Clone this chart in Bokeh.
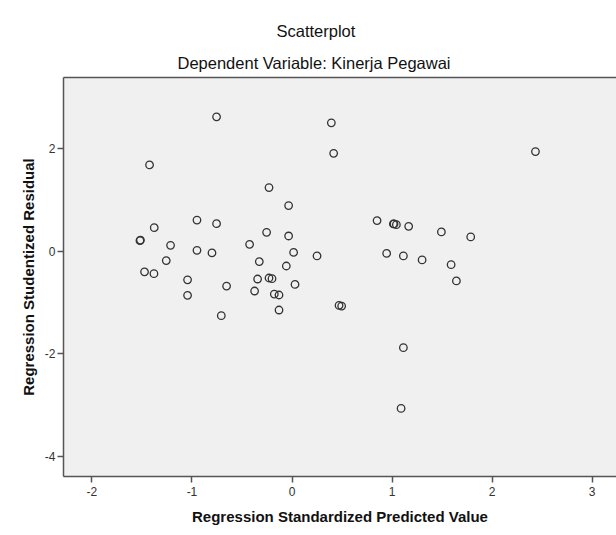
from bokeh.plotting import figure
from bokeh.models import Range1d, FixedTicker, LinearAxis, Title, ColumnDataSource
from bokeh.embed import file_html
from bokeh.resources import INLINE

# Regression standardized predicted value (x) and studentized residual (y)
pred = [-1.424, -0.950, -1.377, -1.520, -1.515, -1.214, -0.950, -1.257, -1.474, -1.380,
        -1.044, -1.044, -0.754, 0.393, 0.416, -0.230, -0.034, -0.754, -0.254, -0.034,
        -0.424, -0.800, 0.016, 0.250, -0.327, -0.057, -0.654, -0.344, -0.230, -0.200,
        0.030, -0.374, -0.177, -0.130, -0.130, -0.707, 0.470, 0.496, 0.850, 1.013,
        1.020, 1.043, 0.946, 2.433, 1.166, 1.493, 1.786, 1.113, 1.300, 1.590,
        1.643, 1.113, 1.090]
resid = [1.687, 0.610, 0.463, 0.209, 0.220, 0.117, 0.020, -0.180, -0.400, -0.435,
         -0.555, -0.859, 2.625, 2.508, 1.914, 1.244, 0.893, 0.541, 0.371, 0.300,
         0.137, -0.030, -0.020, -0.090, -0.200, -0.286, -0.677, -0.540, -0.520, -0.533,
         -0.645, -0.774, -0.833, -0.852, -1.145, -1.256, -1.055, -1.067, 0.600, 0.535,
         0.535, 0.521, -0.040, 1.947, 0.488, 0.379, 0.281, -0.090, -0.168, -0.260,
         -0.578, -1.880, -3.066]

x_ticks = [-2, -1, 0, 1, 2, 3]
y_ticks = [-4, -2, 0, 2]
x_tick_labels = {-2: "-2", -1: "-1", 0: "0", 1: "1", 2: "2", 3: "3"}
y_tick_labels = {-4: "-4", -2: "-2", 0: "0", 2: "2"}

title_text = "Scatterplot"
subtitle_text = "Dependent Variable: Kinerja Pegawai"
x_label = "Regression Standardized Predicted Value"
y_label = "Regression Studentized Residual"

FONT = "Liberation Sans"
EDGE = "#555555"

p = figure(width=616, height=535, output_backend="svg", toolbar_location=None,
           x_range=Range1d(-2.284, 3.243), y_range=Range1d(-4.394, 3.393),
           min_border_left=63, min_border_right=0, min_border_top=77, min_border_bottom=59,
           background_fill_color="#F0F0F0", border_fill_color="white")
p.title.visible = False
p.outline_line_color = None
p.xgrid.grid_line_color = None
p.ygrid.grid_line_color = None

src = ColumnDataSource(dict(x=pred, y=resid))
p.scatter("x", "y", source=src, size=7.5, fill_color=None, line_color="#333333", line_width=1.3)

for ax, ticks, labels in ((p.xaxis[0], x_ticks, x_tick_labels), (p.yaxis[0], y_ticks, y_tick_labels)):
    ax.ticker = FixedTicker(ticks=ticks)
    ax.major_label_overrides = labels
    ax.minor_tick_line_color = None
    ax.major_tick_in = 0
    ax.major_tick_out = 6
    ax.major_tick_line_color = EDGE
    ax.major_tick_line_width = 1.5
    ax.axis_line_color = EDGE
    ax.axis_line_width = 1.5
    ax.major_label_text_font = FONT
    ax.major_label_text_font_size = "12px"
    ax.major_label_text_color = "#333333"
    ax.axis_label_text_font = FONT
    ax.axis_label_text_font_size = "15px"
    ax.axis_label_text_font_style = "bold"
    ax.axis_label_text_color = "#111111"

p.xaxis[0].axis_label = x_label
p.yaxis[0].axis_label = y_label
p.xaxis[0].major_label_standoff = 4
p.xaxis[0].axis_label_standoff = 9
p.yaxis[0].major_label_standoff = 2
p.yaxis[0].axis_label_standoff = 5

top_axis = LinearAxis(ticker=FixedTicker(ticks=[]), axis_line_color=EDGE, axis_line_width=1.5,
                      major_tick_out=0, major_tick_in=0, minor_tick_out=0, minor_tick_in=0,
                      major_label_text_font_size="0px")
p.add_layout(top_axis, "above")

p.add_layout(Title(text=subtitle_text, align="left", offset=114, text_font=FONT,
                   text_font_size="16.5px", text_font_style="normal", text_color="#111111",
                   standoff=12), "above")
p.add_layout(Title(text=title_text, align="left", offset=213, text_font=FONT,
                   text_font_size="16.5px", text_font_style="normal", text_color="#111111",
                   standoff=11), "above")

open("out.html", "w").write(file_html(p, INLINE))
